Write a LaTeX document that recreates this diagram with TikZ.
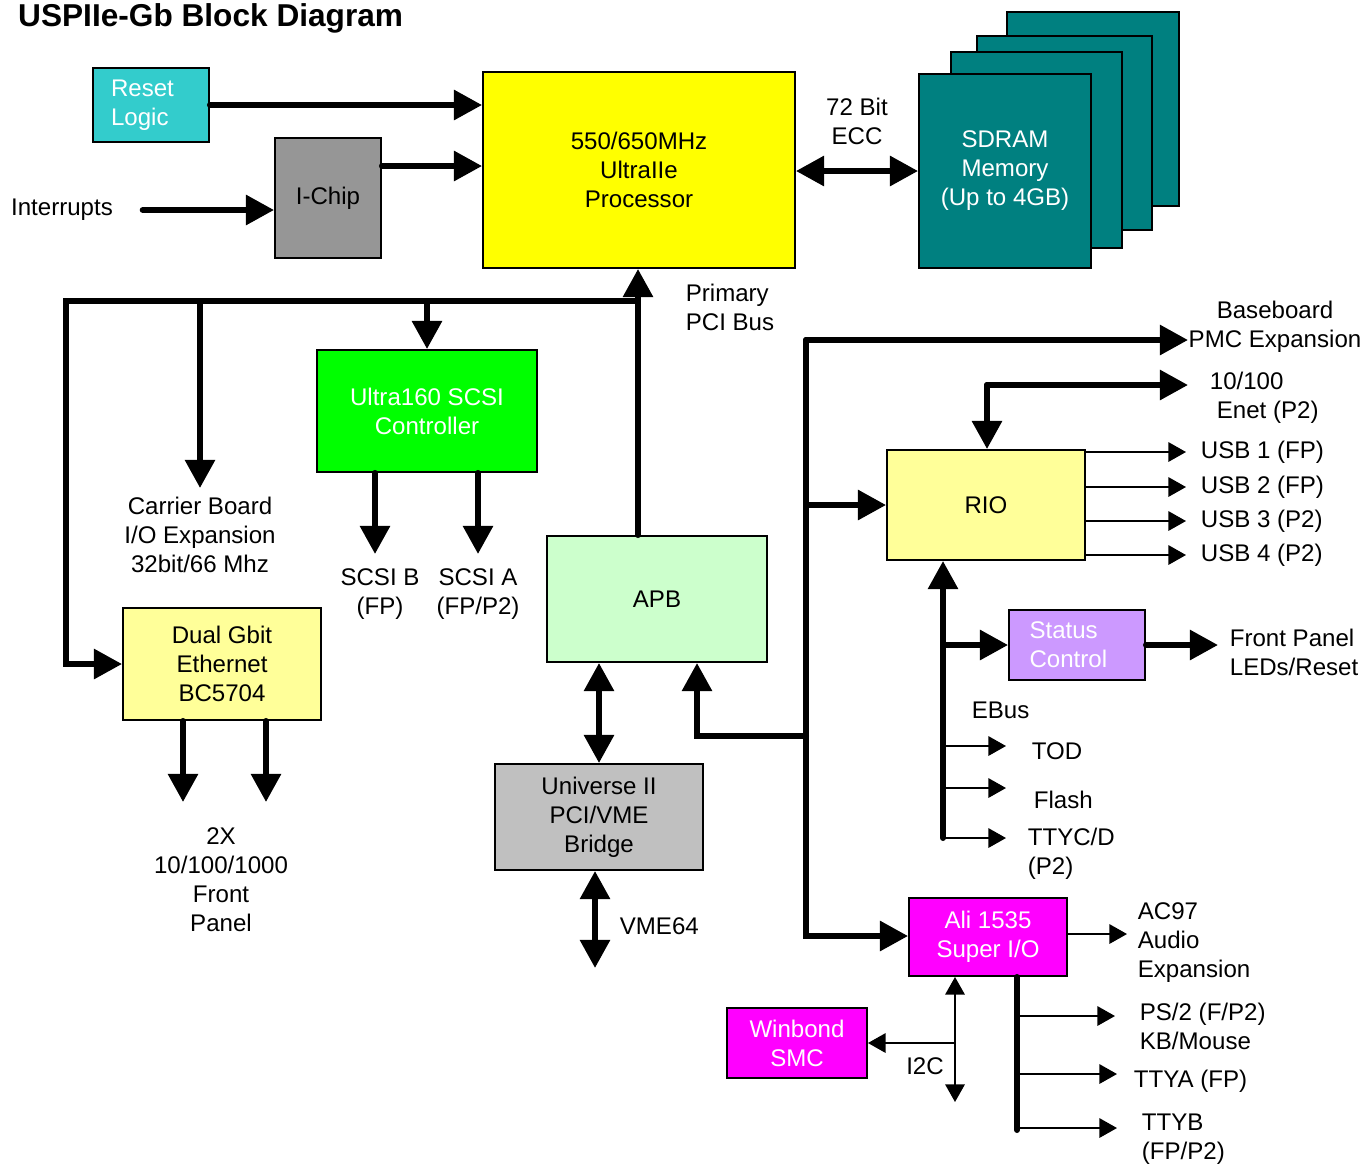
\documentclass[tikz,border=0pt]{standalone}
\usepackage{fontspec}
\setmainfont{Liberation Sans}
\usetikzlibrary{positioning,arrows.meta}

\definecolor{resetc}{HTML}{33CCCC}
\definecolor{ichipc}{HTML}{969696}
\definecolor{cpuc}{HTML}{FFFF00}
\definecolor{memc}{HTML}{008080}
\definecolor{scsic}{HTML}{00FF00}
\definecolor{apbc}{HTML}{CCFFCC}
\definecolor{gbec}{HTML}{FFFF99}
\definecolor{vmec}{HTML}{C0C0C0}
\definecolor{statc}{HTML}{CC99FF}
\definecolor{alic}{HTML}{FF00FF}

\tikzset{
  BT/.tip={Triangle[length=16pt,width=16.5pt]},
  ST/.tip={Triangle[length=10pt,width=11pt]},
  blk/.style={draw, line width=1.1pt, inner sep=2pt, align=center},
  memb/.style={draw, line width=1.1pt, fill=memc},
  lbl/.style={inner sep=2pt, align=center},
  bus/.style={line width=3.4pt, -BT},
  bus2/.style={line width=3.4pt, BT-BT},
  wire/.style={line width=1.1pt, -ST}
}

\begin{document}
\begin{tikzpicture}[x=0.02cm, y=-0.02cm, line cap=round,
  every node/.append style={font=\fontsize{13.7}{16.5}\selectfont}]
	\useasboundingbox (0,0) rectangle (1364,1174);

	\node[anchor=base west, font=\bfseries\fontsize{18}{21}\selectfont] (title) at (12,26) {USPIIe-Gb Block Diagram};

	\node[blk, align=left, fill=resetc, text=white, minimum width=2.32cm, minimum height=1.48cm, text width=1.6cm] (reset) at (151,105) {Reset\\Logic};
	\node[blk, fill=ichipc, minimum width=2.12cm, minimum height=2.4cm] (ichip) at (328,198) {I-Chip};
	\node[blk, fill=cpuc, minimum width=6.24cm, minimum height=3.92cm] (cpu) at (639,170) {550/650MHz\\UltraIIe\\Processor};

	\draw[memb] (1007,12) rectangle (1179,206);
	\draw[memb] (977,36) rectangle (1152,230);
	\draw[memb] (951,52) rectangle (1122,248);
	\node[blk, fill=memc, text=white, minimum width=3.44cm, minimum height=3.88cm] (mem) at (1005,171) {SDRAM\\Memory\\(Up to 4GB)};

	\node[blk, fill=scsic, text=white, minimum width=4.4cm, minimum height=2.44cm] (scsi) at (427,411) {Ultra160 SCSI\\Controller};
	\node[blk, fill=apbc, minimum width=4.4cm, minimum height=2.52cm] (apb) at (657,599) {APB};
	\node[blk, fill=gbec, minimum width=3.96cm, minimum height=2.24cm] (gbe) at (222,664) {Dual Gbit\\Ethernet\\BC5704};
	\node[blk, fill=vmec, minimum width=4.16cm, minimum height=2.12cm] (vme) at (599,817) {Universe II\\PCI/VME\\Bridge};
	\node[blk, fill=gbec, minimum width=3.96cm, minimum height=2.2cm] (rio) at (986,505) {RIO};
	\node[blk, align=left, fill=statc, text=white, minimum width=2.72cm, minimum height=1.4cm, text width=1.9cm] (stat) at (1077,645) {Status\\Control};
	\node[blk, fill=alic, text=white, minimum width=3.16cm, minimum height=1.56cm] (ali) at (988,937) {Ali 1535\\Super I/O};
	\node[blk, fill=alic, text=white, minimum width=2.8cm, minimum height=1.4cm] (smc) at (797,1043) {Winbond\\SMC};

	\node[lbl] (intr) at (62,210) {Interrupts};
	\node[lbl] (ecc) at (857,121) {72 Bit\\ECC};
	\node[lbl, anchor=west, align=left] (pci) at (682,307) {Primary\\PCI Bus};
	\node[lbl] (carr) at (200,535) {Carrier Board\\I/O Expansion\\32bit/66 Mhz};
	\node[lbl] (scsib) at (380,594) {SCSI B\\(FP)};
	\node[lbl] (scsia) at (478,594) {SCSI A\\(FP/P2)};
	\node[lbl] (fp2x) at (221,880) {2X\\10/100/1000\\Front\\Panel};
	\node[lbl, anchor=west] (vme64) at (616,926) {VME64};
	\node[lbl] (pmc) at (1275,327) {Baseboard\\PMC Expansion};
	\node[lbl, anchor=west, align=left] (enet) at (1206,398) {10/100\\\hspace*{4pt}Enet (P2)};
	\node[lbl, anchor=west, align=left] (fpl) at (1226,652) {Front Panel\\LEDs/Reset};
	\node[lbl, anchor=west] (ebus) at (968,710) {EBus};
	\node[lbl, anchor=west] (tod) at (1028,751) {TOD};
	\node[lbl, anchor=west] (flash) at (1030,800) {Flash};
	\node[lbl, anchor=west, align=left] (ttyc) at (1024,854) {TTYC/D\\(P2)};
	\node[lbl, anchor=west, align=left] (ac97) at (1134,943) {AC97\\Audio\\Expansion};
	\node[lbl, anchor=west, align=left] (ps2) at (1136,1026) {PS/2 (F/P2)\\KB/Mouse};
	\node[lbl, anchor=west] (ttya) at (1130,1081) {TTYA (FP)};
	\node[lbl, anchor=west, align=left] (ttyb) at (1138,1139) {TTYB\\(FP/P2)};
	\node[lbl] (i2c) at (925,1066) {I2C};

	\coordinate (pcil) at (66,301);
	\coordinate (pcir) at (638,301);
	\coordinate (carrp) at (200,488);
	\coordinate (scsibp) at (375,554);
	\coordinate (scsiap) at (478,554);
	\coordinate (gbeo1) at (183,802);
	\coordinate (gbeo2) at (266,802);
	\coordinate (vmep) at (595,968);
	\coordinate (rbt) at (806,340);
	\coordinate (rbb) at (806,936);
	\coordinate (pmcp) at (1188,340);
	\coordinate (apbj) at (806,736);
	\coordinate (apbk) at (697,736);
	\coordinate (enetj) at (987,385);
	\coordinate (enetp) at (1188,385);
	\coordinate (fpp) at (1218,643);
	\coordinate (ebb) at (943,838);
	\coordinate (todp) at (1006,746);
	\coordinate (flashp) at (1006,788);
	\coordinate (ttycp) at (1006,838);
	\coordinate (ac97p) at (1127,934);
	\coordinate (alib) at (1017,1130);
	\coordinate (ps2p) at (1115,1016);
	\coordinate (ttyap) at (1117,1074);
	\coordinate (ttybp) at (1117,1128);
	\coordinate (i2cb) at (955,1102);

	\draw[bus] (reset.east) -- (reset.east -| cpu.west);
	\draw[bus] ([yshift=0.64cm]ichip.east) -- ([yshift=0.64cm]ichip.east -| cpu.west);
	\draw[bus] ([xshift=0.52cm]intr.east) -- (intr.east -| ichip.west);
	\draw[bus2] (cpu.east |- mem.west) -- (mem.west);

	\draw[bus] (pcir |- apb.north) -- (pcir |- cpu.south);
	\draw[bus] (pcir) -- (pcil) -- (pcil |- gbe.west) -- (gbe.west);
	\draw[bus] (pcil -| carrp) -- (carrp);
	\draw[bus] (pcil -| scsi.north) -- (scsi.north);
	\draw[bus] (scsibp |- scsi.south) -- (scsibp);
	\draw[bus] (scsiap |- scsi.south) -- (scsiap);
	\draw[bus] (gbeo1 |- gbe.south) -- (gbeo1);
	\draw[bus] (gbeo2 |- gbe.south) -- (gbeo2);
	\draw[bus2] (vme.north |- apb.south) -- (vme.north);
	\draw[bus2] (vmep |- vme.south) -- (vmep);

	\draw[bus] (rbt) -- (pmcp);
	\draw[bus] (rbt) -- (rbb) -- (rbb -| ali.west);
	\draw[bus] (rbt |- rio.west) -- (rio.west);
	\draw[bus] (apbj) -- (apbk) -- (apbk |- apb.south);
	\draw[bus] (enetj) -- (enetp);
	\draw[bus] (enetj) -- (enetj |- rio.north);

	\foreach \y/\t [count=\i] in {452/{USB 1 (FP)},487/{USB 2 (FP)},521/{USB 3 (P2)},555/{USB 4 (P2)}} {
		\node[lbl, anchor=west] (usb\i) at (1197,\y) {\t};
		\draw[wire] (rio.east |- usb\i.west) -- ([xshift=-0.22cm]usb\i.west);
	}

	\draw[bus] (ebb) -- (ebb |- rio.south);
	\draw[bus] (ebb |- stat.west) -- (stat.west);
	\draw[bus] (stat.east) -- (stat.east -| fpp);
	\draw[wire] (ebb |- todp) -- (todp);
	\draw[wire] (ebb |- flashp) -- (flashp);
	\draw[wire] (ebb |- ttycp) -- (ttycp);

	\draw[wire] (ali.east |- ac97p) -- (ac97p);
	\draw[line width=3.4pt] (alib |- ali.south) -- (alib);
	\draw[wire] (alib |- ps2p) -- (ps2p);
	\draw[wire] (alib |- ttyap) -- (ttyap);
	\draw[wire] (alib |- ttybp) -- (ttybp);
	\draw[wire, ST-ST] (i2cb |- ali.south) -- (i2cb);
	\draw[wire] (i2cb |- smc.east) -- (smc.east);
\end{tikzpicture}
\end{document}
